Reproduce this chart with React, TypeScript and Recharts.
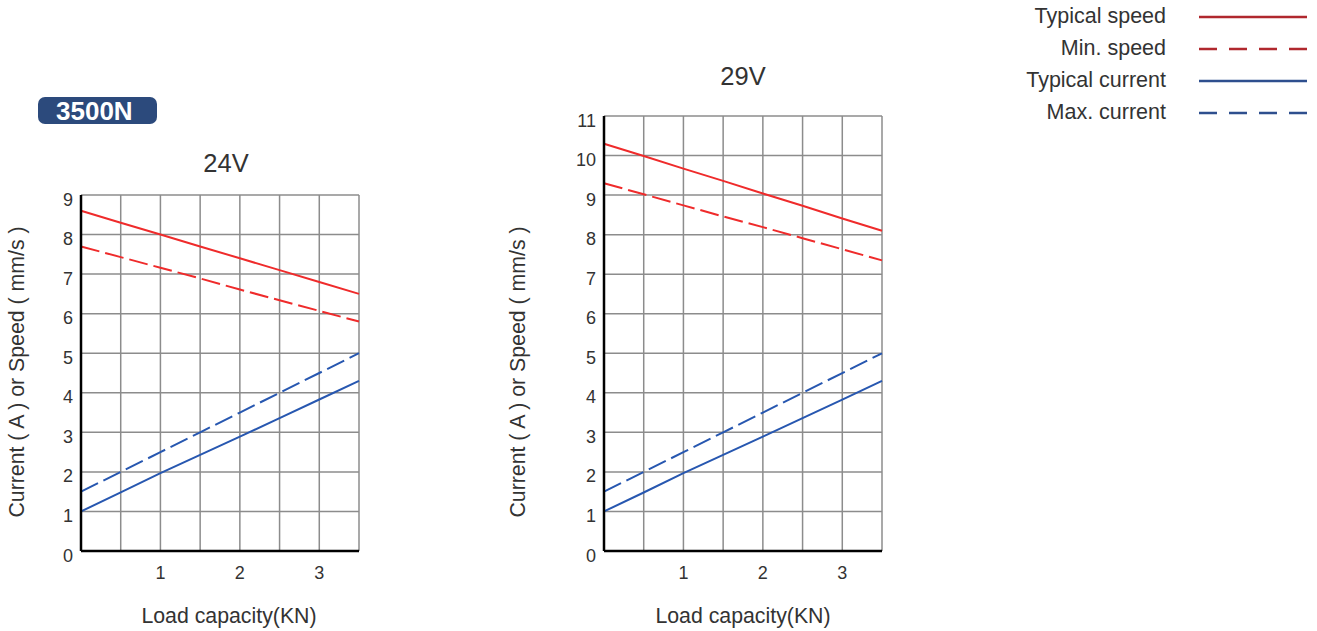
import React from 'react';
import { LineChart, Line, XAxis, YAxis, CartesianGrid } from 'recharts';

const loads = [0, 0.5, 1, 1.5, 2, 2.5, 3, 3.5];

const speedTypical24 = [8.6, 8.3, 8.0, 7.7, 7.4, 7.1, 6.8, 6.5];
const speedMin24 = [7.7, 7.43, 7.16, 6.89, 6.61, 6.34, 6.07, 5.8];
const speedTypical29 = [10.3, 9.99, 9.67, 9.36, 9.04, 8.73, 8.41, 8.1];
const speedMin29 = [9.3, 9.02, 8.74, 8.46, 8.19, 7.91, 7.63, 7.35];

const currentTypical = [1.0, 1.48, 1.97, 2.43, 2.89, 3.36, 3.83, 4.3];
const currentMax = [1.5, 2.0, 2.5, 3.0, 3.5, 4.0, 4.5, 5.0];

const yTicks24 = [0, 1, 2, 3, 4, 5, 6, 7, 8, 9];
const yTicks29 = [0, 1, 2, 3, 4, 5, 6, 7, 8, 9, 10, 11];

const legendItems = [
    { name: 'Typical speed', color: '#b0282e', dash: undefined },
    { name: 'Min. speed', color: '#b0282e', dash: '18 12' },
    { name: 'Typical current', color: '#2e4f8e', dash: undefined },
    { name: 'Max. current', color: '#2e4f8e', dash: '18 12' },
];

const FONT = '"Liberation Sans", Arial, Helvetica, sans-serif';
const TEXT = '#333';
const RED = '#ef2b2b';
const BLUE = '#2757b0';

// only whole kN get a label, half steps are just grid lines
const renderXTick = (props: any) => {
    const { x, y, payload } = props;
    const v = payload.value;
    const label = v >= 1 && Number.isInteger(v) ? String(v) : '';
    return (
        <text key={`x-${v}`} x={x} y={y} dy={22} textAnchor="middle" style={{ fontSize: 18, fill: TEXT, fontFamily: FONT }}>
            {label}
        </text>
    );
};

const renderYTick = (props: any) => {
    const { x, y, payload } = props;
    return (
        <text key={`y-${payload.value}`} x={x} y={y} dy={10.5} textAnchor="end" style={{ fontSize: 18, fill: TEXT, fontFamily: FONT }}>
            {payload.value}
        </text>
    );
};

interface PanelProps {
    left: number;
    top: number;
    height: number;
    marginLeft: number;
    marginRight: number;
    speedTypical: number[];
    speedMin: number[];
    yTicks: number[];
}

function Panel({ left, top, height, marginLeft, marginRight, speedTypical, speedMin, yTicks }: PanelProps) {
    const data = loads.map((load, i) => ({
        load,
        speedTypical: speedTypical[i],
        speedMin: speedMin[i],
        currentTypical: currentTypical[i],
        currentMax: currentMax[i],
    }));
    const yMax = yTicks[yTicks.length - 1];

    return (
        <div style={{ position: 'absolute', left, top }}>
            <LineChart
                width={380}
                height={height}
                data={data}
                margin={{ top: 15, right: marginRight, left: marginLeft, bottom: 39 }}
            >
                <CartesianGrid stroke="#8c8c8c" strokeWidth={1.5} />
                <XAxis
                    type="number"
                    dataKey="load"
                    domain={[0, 3.5]}
                    ticks={loads}
                    height={30}
                    tickLine={false}
                    tickMargin={0}
                    axisLine={{ stroke: '#000', strokeWidth: 2.5 }}
                    tick={renderXTick}
                />
                <YAxis
                    type="number"
                    domain={[0, yMax]}
                    ticks={yTicks}
                    width={40}
                    interval={0}
                    tickLine={false}
                    axisLine={{ stroke: '#000', strokeWidth: 2.5 }}
                    tick={renderYTick}
                />
                <Line type="linear" dataKey="speedTypical" stroke={RED} strokeWidth={2} dot={false} isAnimationActive={false} />
                <Line type="linear" dataKey="speedMin" stroke={RED} strokeWidth={2} strokeDasharray="19 6" dot={false} isAnimationActive={false} />
                <Line type="linear" dataKey="currentTypical" stroke={BLUE} strokeWidth={2} dot={false} isAnimationActive={false} />
                <Line type="linear" dataKey="currentMax" stroke={BLUE} strokeWidth={2} strokeDasharray="19 6" dot={false} isAnimationActive={false} />
            </LineChart>
        </div>
    );
}

function CenterText({ x, y, size, text, rotate }: { x: number; y: number; size: number; text: string; rotate?: boolean }) {
    return (
        <div
            style={{
                position: 'absolute',
                left: x,
                top: y,
                transform: `translate(-50%, -50%)${rotate ? ' rotate(-90deg)' : ''}`,
                whiteSpace: 'nowrap',
                fontSize: size,
                color: TEXT,
                fontFamily: FONT,
                lineHeight: 1,
            }}
        >
            {text}
        </div>
    );
}

export default function App() {
    return (
        <div style={{ position: 'absolute', left: 0, top: 0, width: 1317, height: 631, background: '#fff', fontFamily: FONT }}>
            {/* badge */}
            <div
                style={{
                    position: 'absolute',
                    left: 38,
                    top: 97,
                    width: 119,
                    height: 27,
                    borderRadius: 7,
                    background: '#2c4a7c',
                }}
            />
            <div
                style={{
                    position: 'absolute',
                    left: 56,
                    top: 97,
                    height: 27,
                    lineHeight: '28px',
                    color: '#fff',
                    fontWeight: 'bold',
                    fontSize: 26,
                    fontFamily: FONT,
                }}
            >
                3500N
            </div>

            <CenterText x={226} y={164} size={25.5} text="24V" />
            <CenterText x={743} y={77} size={25.5} text="29V" />

            <CenterText x={18} y={372} size={21.3} text="Current ( A ) or Speed ( mm/s )" rotate />
            <CenterText x={519} y={372} size={21.3} text="Current ( A ) or Speed ( mm/s )" rotate />

            <CenterText x={229} y={617} size={21.3} text="Load capacity(KN)" />
            <CenterText x={743} y={617} size={21.3} text="Load capacity(KN)" />

            <Panel left={0} top={180} height={440} marginLeft={41} marginRight={21} speedTypical={speedTypical24} speedMin={speedMin24} yTicks={yTicks24} />
            <Panel left={520} top={101} height={519} marginLeft={44} marginRight={18} speedTypical={speedTypical29} speedMin={speedMin29} yTicks={yTicks29} />

            {/* legend */}
            {legendItems.map((item, i) => (
                <div key={item.name} style={{ position: 'absolute', top: 17 + i * 32, left: 0, width: 1317 }}>
                    <div
                        style={{
                            position: 'absolute',
                            right: 1317 - 1166,
                            top: 0,
                            transform: 'translateY(-50%)',
                            fontSize: 21.5,
                            color: TEXT,
                            whiteSpace: 'nowrap',
                            lineHeight: 1,
                        }}
                    >
                        {item.name}
                    </div>
                    <svg style={{ position: 'absolute', left: 1199, top: -3 }} width={110} height={6}>
                        <line x1={0} y1={3} x2={108} y2={3} stroke={item.color} strokeWidth={2.5} strokeDasharray={item.dash} />
                    </svg>
                </div>
            ))}
        </div>
    );
}
